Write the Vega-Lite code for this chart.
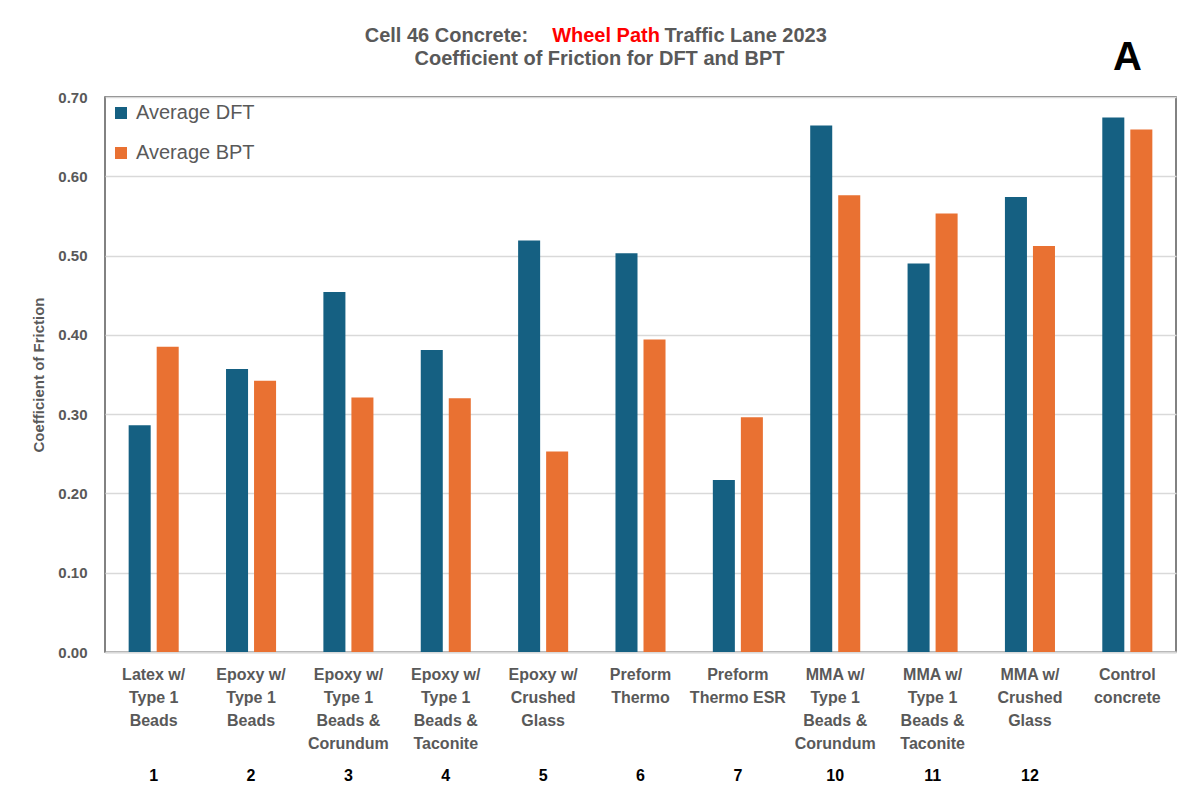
{
  "$schema": "https://vega.github.io/schema/vega-lite/v6.json",
  "width": 1071,
  "height": 555,
  "autosize": {"type": "none"},
  "padding": {"left": 105, "top": 97, "right": 12, "bottom": 159},
  "background": "white",
  "config": {
    "font": "Liberation Sans",
    "view": {"stroke": "#595959", "strokeWidth": 1.5}
  },
  "data": {
    "values": [
      {"treatment": "1|Latex w/|Type 1|Beads", "series": "Average DFT", "cof": 0.286},
      {"treatment": "1|Latex w/|Type 1|Beads", "series": "Average BPT", "cof": 0.385},
      {"treatment": "2|Epoxy w/|Type 1|Beads", "series": "Average DFT", "cof": 0.357},
      {"treatment": "2|Epoxy w/|Type 1|Beads", "series": "Average BPT", "cof": 0.342},
      {"treatment": "3|Epoxy w/|Type 1|Beads &|Corundum", "series": "Average DFT", "cof": 0.454},
      {"treatment": "3|Epoxy w/|Type 1|Beads &|Corundum", "series": "Average BPT", "cof": 0.321},
      {"treatment": "4|Epoxy w/|Type 1|Beads &|Taconite", "series": "Average DFT", "cof": 0.381},
      {"treatment": "4|Epoxy w/|Type 1|Beads &|Taconite", "series": "Average BPT", "cof": 0.320},
      {"treatment": "5|Epoxy w/|Crushed|Glass", "series": "Average DFT", "cof": 0.519},
      {"treatment": "5|Epoxy w/|Crushed|Glass", "series": "Average BPT", "cof": 0.253},
      {"treatment": "6|Preform|Thermo", "series": "Average DFT", "cof": 0.503},
      {"treatment": "6|Preform|Thermo", "series": "Average BPT", "cof": 0.394},
      {"treatment": "7|Preform|Thermo ESR", "series": "Average DFT", "cof": 0.217},
      {"treatment": "7|Preform|Thermo ESR", "series": "Average BPT", "cof": 0.296},
      {"treatment": "10|MMA w/|Type 1|Beads &|Corundum", "series": "Average DFT", "cof": 0.664},
      {"treatment": "10|MMA w/|Type 1|Beads &|Corundum", "series": "Average BPT", "cof": 0.576},
      {"treatment": "11|MMA w/|Type 1|Beads &|Taconite", "series": "Average DFT", "cof": 0.490},
      {"treatment": "11|MMA w/|Type 1|Beads &|Taconite", "series": "Average BPT", "cof": 0.553},
      {"treatment": "12|MMA w/|Crushed|Glass", "series": "Average DFT", "cof": 0.574},
      {"treatment": "12|MMA w/|Crushed|Glass", "series": "Average BPT", "cof": 0.512},
      {"treatment": "|Control|concrete", "series": "Average DFT", "cof": 0.674},
      {"treatment": "|Control|concrete", "series": "Average BPT", "cof": 0.659}
    ]
  },
  "layer": [
    {
      "mark": {"type": "bar"},
      "encoding": {
        "x": {
          "field": "treatment",
          "type": "nominal",
          "title": null,
          "scale": {
            "domain": [
              "1|Latex w/|Type 1|Beads",
              "2|Epoxy w/|Type 1|Beads",
              "3|Epoxy w/|Type 1|Beads &|Corundum",
              "4|Epoxy w/|Type 1|Beads &|Taconite",
              "5|Epoxy w/|Crushed|Glass",
              "6|Preform|Thermo",
              "7|Preform|Thermo ESR",
              "10|MMA w/|Type 1|Beads &|Corundum",
              "11|MMA w/|Type 1|Beads &|Taconite",
              "12|MMA w/|Crushed|Glass",
              "|Control|concrete"
            ],
            "paddingInner": 0.486,
            "paddingOuter": 0.243
          },
          "axis": {
            "orient": "bottom",
            "labelExpr": "slice(split(datum.value, '|'), 1)",
            "labelAngle": 0,
            "labelFont": "Liberation Sans",
            "labelFontSize": 16,
            "labelFontWeight": "bold",
            "labelColor": "#595959",
            "labelLineHeight": 23,
            "labelPadding": 14,
            "labelOverlap": false,
            "labelLimit": 0,
            "ticks": false,
            "grid": false,
            "domainColor": "#d9d9d9",
            "domainWidth": 2
          }
        },
        "xOffset": {
          "field": "series",
          "type": "nominal",
          "scale": {"domain": ["Average DFT", "Average BPT"], "paddingInner": 0.214, "paddingOuter": 0}
        },
        "y": {
          "field": "cof",
          "type": "quantitative",
          "title": "Coefficient of Friction",
          "scale": {"domain": [0, 0.7], "nice": false},
          "axis": {
            "orient": "left",
            "values": [0, 0.1, 0.2, 0.3, 0.4, 0.5, 0.6, 0.7],
            "format": ".2f",
            "labelFont": "Liberation Sans",
            "labelFontSize": 15,
            "labelFontWeight": "bold",
            "labelColor": "#595959",
            "labelPadding": 18,
            "ticks": false,
            "domain": false,
            "gridColor": "#d9d9d9",
            "gridWidth": 1.5,
            "titleFont": "Liberation Sans",
            "titleFontSize": 15,
            "titleFontWeight": "bold",
            "titleColor": "#595959",
            "titlePadding": 11
          }
        },
        "color": {
          "field": "series",
          "type": "nominal",
          "scale": {"domain": ["Average DFT", "Average BPT"], "range": ["#156082", "#E97132"]},
          "legend": {
            "title": null,
            "orient": "top-left",
            "offset": 6,
            "symbolType": "square",
            "symbolSize": 144,
            "symbolStrokeWidth": 0,
            "labelFont": "Liberation Sans",
            "labelFontSize": 20,
            "labelColor": "#595959",
            "labelOffset": 5,
            "rowPadding": 20
          }
        }
      }
    },
    {
      "data": {"values": [{}]},
      "mark": {"type": "text", "text": "Cell 46 Concrete:", "align": "right", "baseline": "alphabetic", "dx": -15, "font": "Liberation Sans", "fontSize": 20, "fontWeight": "bold", "color": "#595959"},
      "encoding": {
        "x": {"datum": "5|Epoxy w/|Crushed|Glass", "type": "nominal", "axis": null},
        "y": {"datum": 0.769, "type": "quantitative", "axis": null}
      }
    },
    {
      "data": {"values": [{}]},
      "mark": {"type": "text", "text": "Wheel Path", "align": "left", "baseline": "alphabetic", "dx": 9, "font": "Liberation Sans", "fontSize": 20, "fontWeight": "bold", "color": "#FF0000"},
      "encoding": {
        "x": {"datum": "5|Epoxy w/|Crushed|Glass", "type": "nominal", "axis": null},
        "y": {"datum": 0.769, "type": "quantitative", "axis": null}
      }
    },
    {
      "data": {"values": [{}]},
      "mark": {"type": "text", "text": "Traffic Lane 2023", "align": "left", "baseline": "alphabetic", "dx": 24, "font": "Liberation Sans", "fontSize": 20, "fontWeight": "bold", "color": "#595959"},
      "encoding": {
        "x": {"datum": "6|Preform|Thermo", "type": "nominal", "axis": null},
        "y": {"datum": 0.769, "type": "quantitative", "axis": null}
      }
    },
    {
      "data": {"values": [{}]},
      "mark": {"type": "text", "text": "Coefficient of Friction for DFT and BPT", "align": "center", "baseline": "alphabetic", "dx": -41, "font": "Liberation Sans", "fontSize": 20, "fontWeight": "bold", "color": "#595959"},
      "encoding": {
        "x": {"datum": "6|Preform|Thermo", "type": "nominal", "axis": null},
        "y": {"datum": 0.740, "type": "quantitative", "axis": null}
      }
    },
    {
      "data": {"values": [{}]},
      "mark": {"type": "text", "text": "A", "align": "center", "baseline": "middle", "font": "Liberation Sans", "fontSize": 40, "fontWeight": "bold", "color": "#000000"},
      "encoding": {
        "x": {
          "datum": "|Control|concrete",
          "type": "nominal",
          "title": null,
          "axis": {
            "orient": "bottom",
            "offset": 101,
            "labelExpr": "split(datum.value, '|')[0]",
            "labelAngle": 0,
            "labelFont": "Liberation Sans",
            "labelFontSize": 16,
            "labelFontWeight": "bold",
            "labelColor": "#000000",
            "labelPadding": 14,
            "labelOverlap": false,
            "ticks": false,
            "domain": false,
            "grid": false
          }
        },
        "y": {"datum": 0.749, "type": "quantitative", "axis": null}
      }
    }
  ],
  "resolve": {"axis": {"x": "independent", "y": "independent"}}
}
